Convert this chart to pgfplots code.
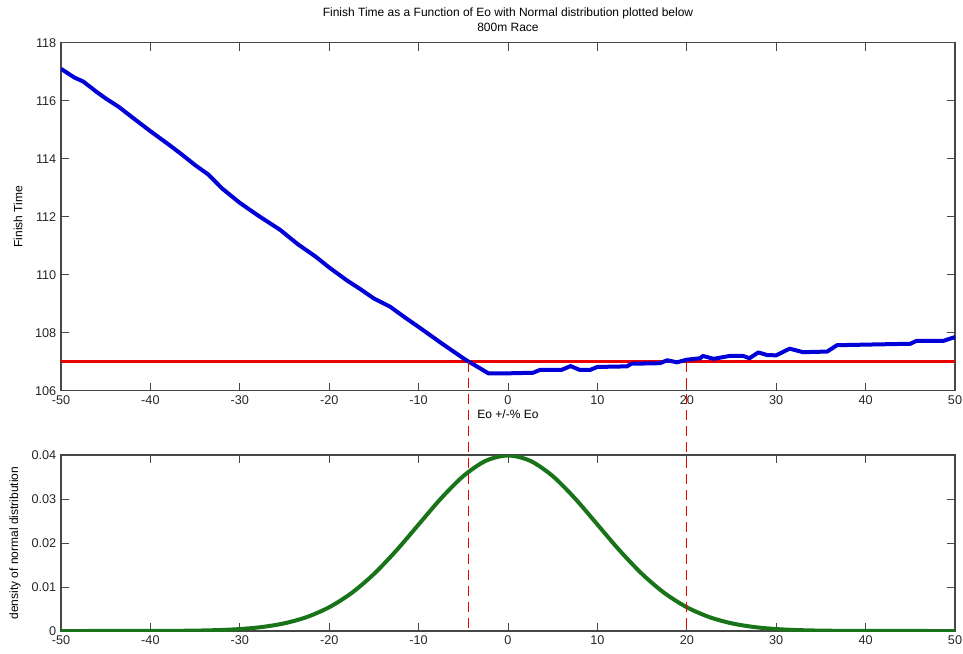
\documentclass[border=0pt]{standalone}
\usepackage{pgfplots}
\pgfplotsset{compat=1.18}
\usepackage{fontspec}
\setmainfont{Liberation Sans}

\definecolor{mblue}{RGB}{0,0,215}
\definecolor{mgreen}{RGB}{25,115,25}
\definecolor{mred}{RGB}{235,0,0}
\definecolor{axgray}{RGB}{70,70,70}

\pgfplotsset{
  mlab/.style={
    scale only axis,
    width=670.5pt,
    xmin=-50, xmax=50,
    xtick={-50,-40,...,50},
    axis line style={axgray, line width=0.8pt},
    major tick style={axgray, line width=0.7pt},
    major tick length=6pt,
    tick align=inside,
    ticklabel style={font=\fontsize{9.5}{11}\selectfont, text=black!85},
    label style={font=\fontsize{9}{11}\selectfont},
    /pgf/number format/assume math mode=true,
    clip=true,
  }
}

\begin{document}
\begin{tikzpicture}
\useasboundingbox (0,0) rectangle (722.25pt,489.75pt);

\begin{axis}[mlab, name=top,
  at={(45.75pt,196.7pt)}, anchor=south west,
  height=261pt,
  ymin=106, ymax=118,
  ytick={106,108,...,118},
  xlabel={Eo +/-\% Eo},
  xlabel style={yshift=3pt},
  ylabel={Finish Time},
  ylabel style={at={(axis description cs:-0.048,0.5)}, anchor=center},
  title={Finish Time as a Function of Eo with Normal distribution plotted below\\800m Race},
  title style={font=\fontsize{9}{11.25}\selectfont, align=center, yshift=-1pt},
]
\addplot[mred, line width=2.2pt] coordinates {(-50,107) (50,107)};
\addplot[mblue, line width=3pt, line join=round] coordinates {
(-50,117.1) (-48.5,116.8) (-47.5,116.66) (-46,116.3) (-45,116.08)
(-43.5,115.78) (-42,115.42) (-40,114.95) (-38,114.5) (-36.5,114.15)
(-35,113.78) (-33.5,113.45) (-32,112.98) (-30,112.48) (-28,112.05)
(-25.5,111.55) (-23.5,111.05) (-21.5,110.62) (-20,110.25) (-18,109.8)
(-16.5,109.5) (-15,109.18) (-13.2,108.9) (-11.5,108.52) (-10,108.2)
(-7.5,107.65) (-5,107.12) (-4.5,107.02) (-3,106.75) (-2.2,106.6) (0,106.6) (2.8,106.62)
(3.6,106.72) (6,106.72) (7,106.85) (8,106.72) (9.2,106.72)
(10,106.82) (13.3,106.84) (13.8,106.93) (17,106.95) (17.8,107.05)
(18.9,106.98) (20,107.07) (21.5,107.12) (21.8,107.2) (23,107.1)
(24.8,107.2) (26.3,107.2) (27,107.12) (28,107.32) (29,107.23)
(30,107.22) (31.5,107.45) (33,107.33) (35.7,107.35) (36.8,107.57)
(45,107.62) (45.7,107.72) (48.7,107.72) (50,107.85)};
\coordinate (d1) at (axis cs:-4.4,107);
\coordinate (d2) at (axis cs:20,107);
\node[text=mred, font=\fontsize{13}{13}\selectfont, anchor=center] at (axis cs:-50,107) [xshift=-18pt, yshift=1pt] {y};
\end{axis}

\begin{axis}[mlab, name=bot,
  at={(45.75pt,16.5pt)}, anchor=south west,
  height=132pt,
  ymin=0, ymax=0.04,
  ytick={0,0.01,...,0.04},
  yticklabel style={/pgf/number format/fixed, /pgf/number format/precision=2},
  scaled y ticks=false,
  ylabel={density of normal distribution},
  ylabel style={at={(axis description cs:-0.0515,0.5)}, anchor=center},
]
\addplot[mgreen, line width=3pt, smooth] coordinates {
(-50,0) (-45,0.0000016) (-40,0.0000134) (-37.5,0.0000353) (-35,0.0000873)
(-32.5,0.000203) (-30,0.000443) (-27.5,0.000909) (-25,0.001753)
(-22.5,0.003174) (-20,0.005399) (-17.5,0.008628) (-15,0.012952)
(-12.5,0.018265) (-10,0.024197) (-7.5,0.030114) (-5,0.035207)
(-2.5,0.038667) (0,0.039894) (2.5,0.038667) (5,0.035207)
(7.5,0.030114) (10,0.024197) (12.5,0.018265) (15,0.012952)
(17.5,0.008628) (20,0.005399) (22.5,0.003174) (25,0.001753)
(27.5,0.000909) (30,0.000443) (32.5,0.000203) (35,0.0000873)
(37.5,0.0000353) (40,0.0000134) (45,0.0000016) (50,0)};
\coordinate (e1) at (axis cs:-4.4,0);
\coordinate (e2) at (axis cs:20,0);
\end{axis}

\path[draw=mred, line width=1pt, dash pattern=on 8pt off 4pt]
  (d1) -- (e1) (d2) -- (e2);
\end{tikzpicture}
\end{document}
